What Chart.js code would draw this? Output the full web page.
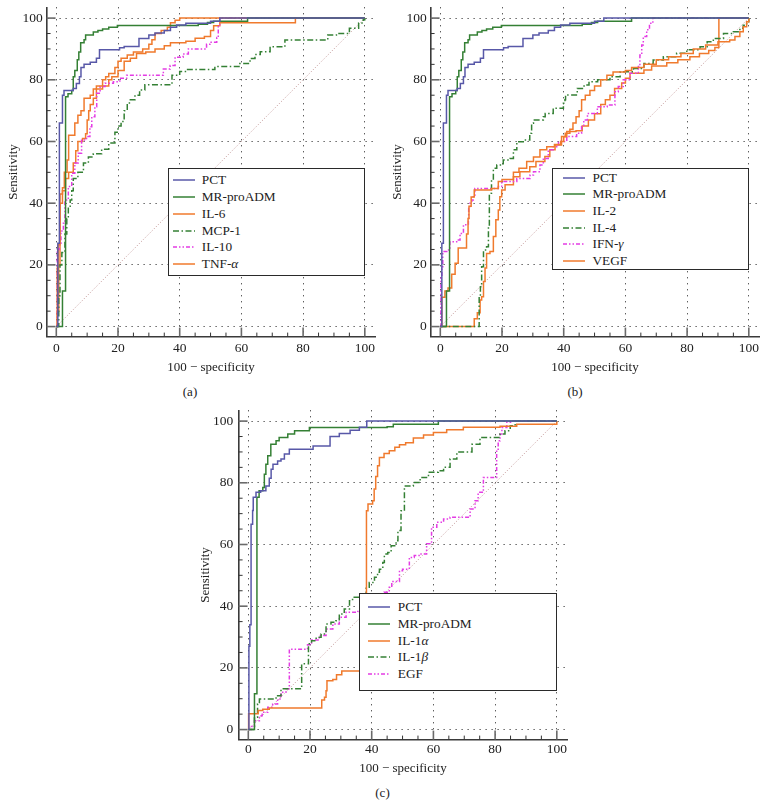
<!DOCTYPE html>
<html><head><meta charset="utf-8">
<script src="https://cdn.jsdelivr.net/npm/chart.js@4.4.1/dist/chart.umd.min.js"></script>
<style>
body{margin:0;background:#fff;width:768px;height:808px;position:relative;overflow:hidden;font-family:'Liberation Serif','Times New Roman',serif;color:#222}
canvas{position:absolute}
.lg{position:absolute;border:1.5px solid #2a2a2a;background:#fff;box-sizing:border-box}
.row{position:absolute;height:16px;line-height:16px;font-size:13.3px;white-space:nowrap}
.cap{position:absolute;font-size:13px;transform:translate(-50%,-50%);white-space:nowrap}
</style></head><body>
<canvas id="ca" width="384" height="380" style="left:0;top:0"></canvas>
<canvas id="cb" width="384" height="380" style="left:384px;top:0"></canvas>
<canvas id="cc" width="384" height="380" style="left:192px;top:402.5px"></canvas>
<div id="legends"></div>
<div class="cap" style="left:190px;top:392px">(a)</div>
<div class="cap" style="left:575px;top:392px">(b)</div>
<div class="cap" style="left:382.5px;top:793px">(c)</div>
<script>
// ---- tick values ----
const TICKS = [0, 20, 40, 60, 80, 100];
const MINOR_TICKS = [0,5,10,15,20,25,30,35,40,45,50,55,60,65,70,75,80,85,90,95,100];
const X_TITLE = '100 \u2212 specificity';
const Y_TITLE = 'Sensitivity';
const DIAG = [[0,0],[100,100]];

// ---- panel (a) and (b) shared markers ----
const PCT_AB = [[0,0],[0.5,27],[1,66],[2,75],[2.5,76.5],[5.5,77.2],[6.5,78.8],[7.5,81],[8,84],[9,85],[11,85.7],[13,87],[14,89.7],[20.5,90.4],[22,90.8],[26.8,93.4],[30,94.5],[32,95.2],[35,96],[37,97],[39,97.8],[42,98.3],[50,99],[53,100],[100,100]];
const MR_AB = [[0,0],[2,11.5],[3,74.5],[3.8,75.5],[5,76.5],[5.5,81],[6,83],[6.8,86.5],[7.3,89],[7.9,92],[9,93],[9.5,94.5],[12,95.5],[13.5,96],[15,96.5],[17,97],[19.8,97.6],[46,98],[49,98.6],[51,99],[62,100],[100,100]];

// ---- panel (a) ----
const IL6_A = [[0,0],[0.3,19],[0.6,26.5],[1.2,43],[2,45],[2.6,50],[3.5,54],[4,62],[6,66],[7,68.5],[8,70],[9,74],[11,75],[12,77],[13,78],[15,80],[16,81],[17,82],[19,84],[20,86],[21,87],[23,88],[25,89],[28,90],[30,91.5],[31,93],[32,95],[34,96],[36,97],[37,98.5],[38.5,99.3],[40,100],[100,100]];
const MCP1_A = [[0,0],[0.8,10],[1.2,20],[1.8,24],[2.8,30],[3.4,35],[3.9,39],[4.5,41],[5,44],[5.5,48],[7,50],[8.8,53],[10.4,55],[12,56],[14.7,57.5],[17,59.5],[19,63],[20,65],[21,66.5],[22,70],[23,72.5],[24,73.5],[25.5,75],[27,76.7],[28.7,78.4],[37.5,81.5],[40,82.7],[42.3,83.3],[51.4,84.3],[59.5,85.3],[62.8,86.9],[64.4,88.2],[66.1,89.1],[69.3,90.7],[74.1,92.9],[88,94.5],[90.8,95],[95,96.7],[98,98.4],[99.5,99.5],[100,100]];
const IL10_A = [[0,0],[0.3,25],[1,27],[1.5,31],[2.3,33.5],[2.8,41],[3.9,45.4],[5,49.7],[6,53],[7.1,56.2],[8.2,60.5],[9.8,61.6],[10.9,64.8],[11.5,68],[12.5,71.3],[13.1,75.6],[14.2,77.8],[15.8,78.9],[18.5,79.4],[20.6,80.5],[22.8,81.5],[34.7,83.5],[36.9,84.6],[38.5,87.3],[41.1,88.4],[42.8,90],[48.7,91.5],[49.8,92.2],[52,93.7],[52.5,97.5],[53,100],[100,100]];
const TNF_A = [[0,0],[0.3,5],[0.8,20],[1.2,40],[2,44],[3,48],[4,50],[5.5,53],[6.3,57],[7,60],[8.5,61],[9.5,62.5],[10,67],[10.5,70],[11,72],[12,74],[13,77],[15,78],[17,80],[18,81],[20,83],[22,86],[24,87],[26,88.5],[29,89],[32,90],[35,91],[37,92],[42,92.5],[45,93.5],[48,94],[50,96],[51,97.5],[53,98.5],[77.5,100],[100,100]];

// ---- panel (b) ----
const IL2_B = [[0,0],[0.5,9.5],[1.5,11.5],[2.5,12.5],[3.7,17],[4.8,20.5],[5.8,25.5],[8.5,30],[9,35],[9.3,39],[10,42],[11,44.3],[16.6,44.8],[18.8,47],[20,47.7],[23.7,50],[25.5,51.3],[28,53.5],[30.2,55],[32.3,57.3],[34.5,58.3],[37,59],[39,60],[40,61.5],[41,63.2],[42,64],[43,66],[44,68],[45,70],[45.8,73.5],[47,75],[48.5,76.5],[50,78],[52,80],[54,81.5],[56,82.5],[60,83],[62,84],[66,85],[70,86.5],[74,87.5],[78,88.5],[82,90],[86,91.3],[90,92.3],[93.8,92.9],[95.5,94],[97.1,95.6],[98.2,97.2],[99.3,98.8],[100,100]];
const IL4_B = [[0,0],[12.3,0],[12.6,9.7],[13,12.9],[13.4,19.4],[14,24.8],[15,25.9],[15.6,32.4],[15.9,43.2],[16.6,47.5],[17.2,51.3],[18.3,52.4],[20.4,54],[22.6,54.5],[23.7,57.3],[24.8,59.9],[26.9,60.5],[29,62.7],[29.6,65.9],[30.2,67],[33.4,68],[34,69.1],[36.6,70.8],[39.9,72.4],[40.4,73.5],[40.6,75.1],[44.4,77.2],[46.6,78.3],[48.2,79.4],[51,80],[55,81],[58.3,82.6],[62.6,83.7],[66,85.3],[69,86.4],[72.3,87.5],[76.6,88.6],[79.9,89.7],[84.2,90.7],[86.5,92.3],[88.5,93.4],[91.8,95],[95,95.6],[97.1,96.7],[98.2,97.7],[99.3,98.8],[100,100]];
const IFN_B = [[0,0],[0.2,16.2],[0.5,19.4],[0.8,24.3],[2.1,24.8],[3.1,27.5],[5.3,28.1],[6.4,30.2],[7.5,33],[9.1,34.6],[9.2,38.3],[9.6,40],[10.2,41],[10.7,42.6],[11.2,44.8],[18.8,45.4],[19.9,47],[24.8,48],[29.1,49.1],[30.2,50.2],[32.3,52.4],[33.4,54.5],[35,57.3],[36.6,58.3],[38.3,60],[41,61.6],[44.2,62.7],[45.8,64.8],[46.5,67],[47.7,69.1],[50.9,71.3],[54.1,71.8],[56.6,76.1],[57.7,77.8],[59.3,80],[61.5,82.1],[64.2,84.3],[64.7,88],[65.3,91.3],[65.8,94],[66.9,96.2],[67.8,98.3],[68.9,100],[100,100]];
const VEGF_B = [[0,0],[10.7,0],[11,2.5],[12,4.5],[12.9,8.6],[13.4,9.7],[14,14.6],[14.5,19],[15,23.7],[16.1,24.3],[17.2,29.2],[18,34.6],[18.8,37.8],[19.3,42.1],[19.9,44.3],[21,46],[23.7,48.6],[25.8,50.2],[29,51.8],[31,53.5],[33.9,55.1],[35.5,57.3],[37.2,58.9],[39.3,61.6],[40.5,62.7],[42,63.2],[44,63.5],[46,65],[48,67],[50,69],[52,72],[53.5,73.5],[55,75],[56.5,77.2],[58.8,79],[60,80.5],[61.5,82.1],[66,83.2],[68.5,84.5],[73.4,85.5],[77,86.5],[80.9,87.5],[84,88.5],[87,89.5],[89,90.5],[90.3,100],[100,100]];

// ---- panel (c) ----
const PCT_C = [[0,0],[0.2,27],[0.5,34],[0.9,66.6],[1.4,71],[1.6,75.3],[2.5,76.9],[4,77.4],[5.7,79],[6.8,81.5],[7.4,84.4],[8,86],[9.5,87.1],[10.6,87.7],[11.7,89.3],[13.3,90.9],[21,91.9],[26.5,95],[29.5,96],[33,97],[36,98],[38.4,100],[100,100]];
const MR_C = [[0,0],[2,11.6],[2.8,75.3],[3.5,77.4],[4.7,78.5],[5.2,82.8],[5.7,86],[6.3,88.8],[7.3,92.5],[9,93.6],[10,94.7],[12.8,95.8],[15,96.9],[19.8,97.9],[45,98.2],[47,99],[61.6,100],[100,100]];
const IL1A_C = [[0,0],[0.1,5.1],[3.2,6.2],[4.7,6.6],[6.8,7],[23.8,9.6],[24.7,10.5],[25.2,12.6],[25.5,15.8],[27.4,16.2],[28.6,17.8],[30.3,19],[38.3,70.9],[38.8,73.1],[40.3,74.2],[40.8,78],[41.3,82],[41.9,85.5],[42.5,88.2],[44,89.5],[45.7,90.4],[47.5,91.5],[49,92.3],[51,93],[53.5,94.5],[56.8,95.5],[60,96.3],[64.3,97.2],[69.7,98],[81.6,98.3],[87,99],[100,100]];
const IL1B_C = [[0,0],[2,4],[3,8.3],[3.6,9.9],[9,11],[10.6,13.2],[17.3,21.3],[19.5,27.8],[20.5,28.8],[22,29.9],[23.6,31],[25.2,34.2],[26.8,34.8],[28.4,35.3],[29.5,37.5],[31.1,39.1],[32.8,41.8],[33.8,42.9],[37.6,44],[38.2,46.1],[39.2,47.7],[40.9,49.4],[41.9,51],[42.5,52],[43.6,54.2],[44.1,56.9],[45.2,57.4],[46.3,59.6],[47.9,61.2],[48.5,64.5],[49.5,70.9],[50.6,79],[53.5,80.1],[55.7,81.7],[58.4,83.4],[61.6,83.9],[63.3,85],[65.4,87.7],[67.6,90],[72.5,92.5],[75.1,94.7],[81.6,95.8],[83.2,96.9],[84.9,98.5],[86.5,100],[100,100]];
const EGF_C = [[0,0],[1,1],[2,2.9],[3.6,4.5],[4.5,5.6],[6.3,7.2],[7.9,8.3],[9.5,9.9],[10.6,12.1],[12.2,13.2],[13.3,26],[19.2,27.5],[20.5,29],[23,30.5],[25.2,32.6],[27.4,34.2],[29.5,36.4],[31.7,38],[35.5,38.3],[38,40],[40,41.5],[42,43],[44,44.5],[45.7,46.1],[46.5,48],[49,51.5],[50,52],[52.2,55.8],[53.8,56.4],[55.7,56.9],[57.8,60.2],[59.4,65.6],[61.1,67.2],[63.3,68.3],[65.4,68.8],[71.9,71.5],[73.5,74.2],[74.5,76.9],[76.2,81.7],[80.5,90.9],[81,93.6],[81.6,95.8],[82.2,97.9],[83.8,99.6],[85,100],[100,100]];

// ---- styles ----
const C_BLUE = 'rgb(88,88,168)', C_GREEN = 'rgb(52,128,52)', C_ORANGE = 'rgb(240,122,45)', C_MAG = 'rgb(228,60,228)';
const DASH_DOT = [6,2.5,1.5,2.5], DASH_DOT_DOT = [4,2,1.5,2,1.5,2];
const FONT = "'Liberation Serif','Times New Roman',serif";

const PANELS = [
  { id:'ca', series:[
      {label:'PCT', data:PCT_AB, color:C_BLUE, dash:[]},
      {label:'MR-proADM', data:MR_AB, color:C_GREEN, dash:[]},
      {label:'IL-6', data:IL6_A, color:C_ORANGE, dash:[]},
      {label:'MCP-1', data:MCP1_A, color:C_GREEN, dash:DASH_DOT},
      {label:'IL-10', data:IL10_A, color:C_MAG, dash:DASH_DOT_DOT},
      {label:'TNF-α', data:TNF_A, color:C_ORANGE, dash:[]}],
    xTickPad:3.6, yTickPad:3.9, xTitlePad:4.2,
    legend:{left:167.7, top:168.3, width:197.3, height:107.4, sx:5.6, tx:34.6, r0:12.7} },
  { id:'cb', series:[
      {label:'PCT', data:PCT_AB, color:C_BLUE, dash:[]},
      {label:'MR-proADM', data:MR_AB, color:C_GREEN, dash:[]},
      {label:'IL-2', data:IL2_B, color:C_ORANGE, dash:[]},
      {label:'IL-4', data:IL4_B, color:C_GREEN, dash:DASH_DOT},
      {label:'IFN-γ', data:IFN_B, color:C_MAG, dash:DASH_DOT_DOT},
      {label:'VEGF', data:VEGF_B, color:C_ORANGE, dash:[]}],
    xTickPad:3.6, yTickPad:3.9, xTitlePad:4.2,
    legend:{left:552.3, top:168.3, width:196.7, height:101.7, sx:11.7, tx:40.7, r0:10} },
  { id:'cc', series:[
      {label:'PCT', data:PCT_C, color:C_BLUE, dash:[]},
      {label:'MR-proADM', data:MR_C, color:C_GREEN, dash:[]},
      {label:'IL-1α', data:IL1A_C, color:C_ORANGE, dash:[]},
      {label:'IL-1β', data:IL1B_C, color:C_GREEN, dash:DASH_DOT},
      {label:'EGF', data:EGF_C, color:C_MAG, dash:DASH_DOT_DOT}],
    xTickPad:1.4, yTickPad:5.3, xTitlePad:6.4,
    legend:{left:359.3, top:593.3, width:198, height:97.4, sx:9, tx:39, r0:14.4} }
];

const innerTicks = {
  id:'innerTicks',
  afterDraw(chart){
    const {ctx, chartArea:a, scales:{x, y}} = chart;
    ctx.save();
    MINOR_TICKS.forEach(v => {
      const major = v % 20 === 0;
      const len = major ? 9 : 4;
      ctx.lineWidth = major ? 1.6 : 1;
      ctx.strokeStyle = major ? '#6a6a6a' : '#333';
      const px = x.getPixelForValue(v);
      ctx.beginPath(); ctx.moveTo(px, a.bottom); ctx.lineTo(px, a.bottom - len); ctx.stroke();
      const py = y.getPixelForValue(v);
      ctx.beginPath(); ctx.moveTo(a.left, py); ctx.lineTo(a.left + len, py); ctx.stroke();
    });
    ctx.restore();
  }
};

function axis(isX, p){
  return {
    type:'linear',
    min: isX ? -3.15 : -3.25,
    max: isX ? 103.4 : 103.5,
    afterBuildTicks: s => { s.ticks = TICKS.map(v => ({value:v})); },
    afterFit: s => {
      if (isX) s.height = 43.4; else s.width = 46.58;
      s.paddingLeft = 0; s.paddingRight = 0; s.paddingTop = 0; s.paddingBottom = 0;
    },
    grid:{ color:'#1a1a1a', lineWidth:1, drawTicks:false },
    border:{ display:true, color:'#3a3a3a', width:1.6, dash:[1,5] },
    ticks:{ padding: isX ? p.xTickPad : p.yTickPad, color:'#222', font:{family:FONT, size:13.5}, maxRotation:0, autoSkip:false },
    title:{ display:true, text: isX ? X_TITLE : Y_TITLE, color:'#222', font:{family:FONT, size:13},
            padding: isX ? {top:0, bottom:p.xTitlePad} : {top:6.2, bottom:0} }
  };
}

PANELS.forEach(p => {
  const datasets = p.series.map(s => ({
    label:s.label,
    data:s.data.map(([x, y]) => ({x, y})),
    borderColor:s.color, borderWidth:1.5, borderDash:s.dash,
    pointRadius:0, stepped:'before', fill:false
  }));
  datasets.push({label:'ref', data:DIAG.map(([x, y]) => ({x, y})), borderColor:'rgba(185,135,135,0.9)',
    borderWidth:1, borderDash:[1,2], pointRadius:0, fill:false});
  new Chart(document.getElementById(p.id), {
    type:'line',
    data:{datasets},
    options:{
      responsive:false, animation:false, events:[],
      layout:{padding:{left:0, right:8.7, top:7.3, bottom:0}},
      plugins:{legend:{display:false}, tooltip:{enabled:false}},
      scales:{x:axis(true, p), y:axis(false, p)}
    },
    plugins:[innerTicks]
  });

  // legend box (HTML)
  const L = p.legend;
  const box = document.createElement('div');
  box.className = 'lg';
  Object.assign(box.style, {left:L.left+'px', top:L.top+'px', width:L.width+'px', height:L.height+'px'});
  p.series.forEach((s, i) => {
    const row = document.createElement('div');
    row.className = 'row';
    row.style.top = (L.r0 + i*16.67 - 8 - 1.5) + 'px';
    row.style.left = '0px';
    const dash = s.dash.length ? s.dash.join(',') : 'none';
    const txt = s.label.replace(/([αβγ])/g, '<i>$1</i>');
    row.innerHTML = `<svg width="22" height="16" style="position:absolute;left:${L.sx-1.5}px;top:0"><line x1="0" y1="8" x2="22" y2="8" stroke="${s.color}" stroke-width="1.5" stroke-dasharray="${dash}"/></svg><span style="position:absolute;left:${L.tx-1.5}px;top:0">${txt}</span>`;
    box.appendChild(row);
  });
  document.getElementById('legends').appendChild(box);
});
</script>
</body></html>
